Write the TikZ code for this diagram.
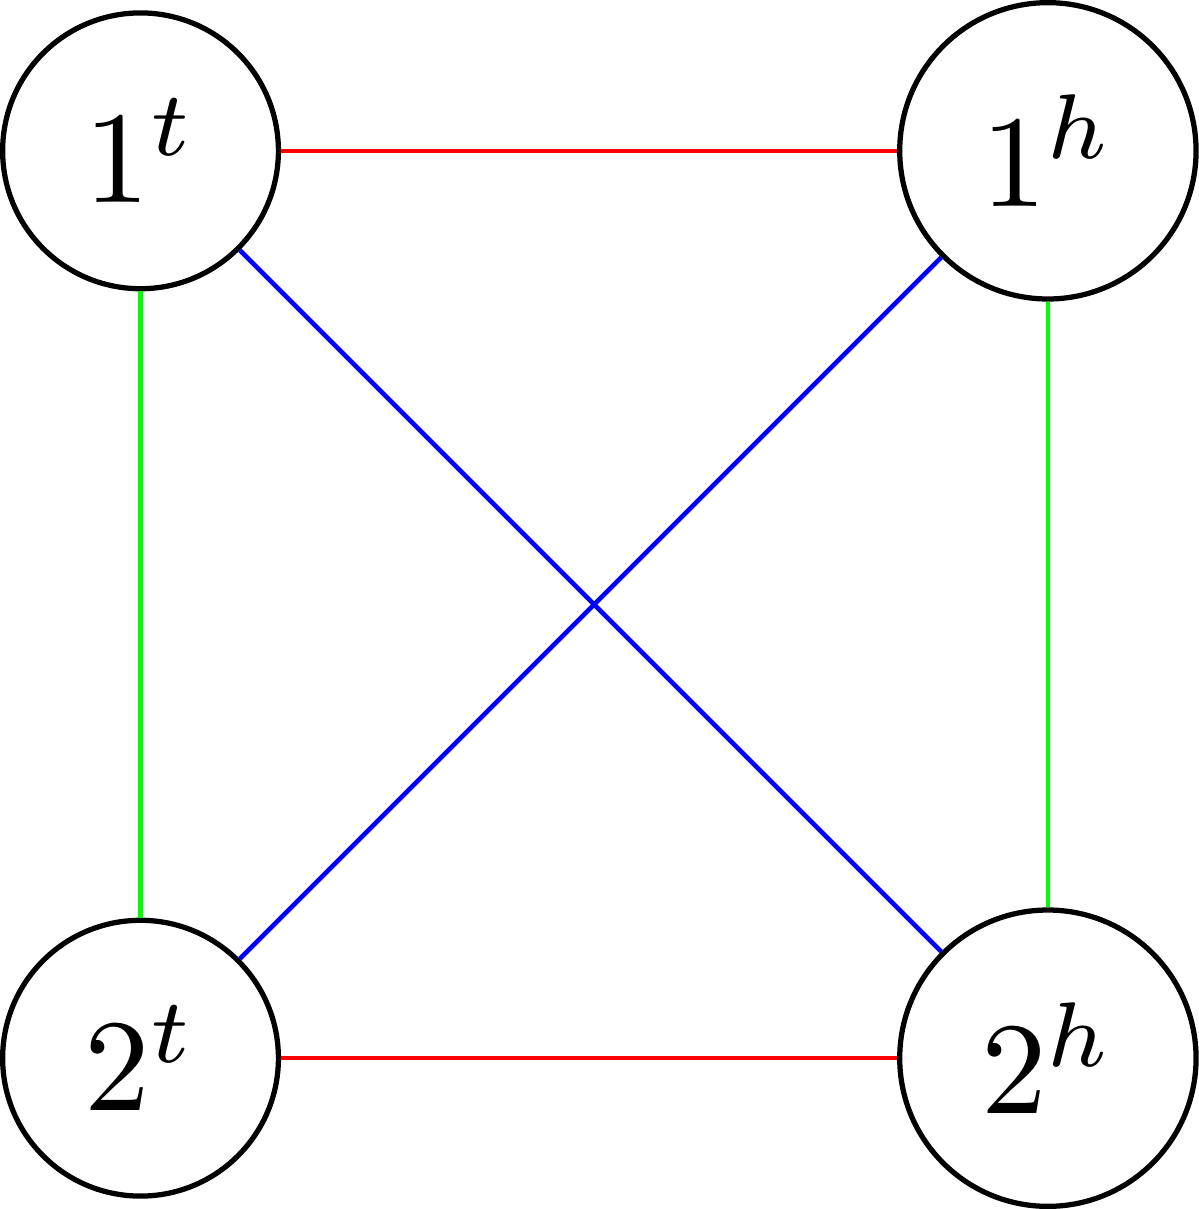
\documentclass[tikz,border=0pt]{standalone}
\usetikzlibrary{calc}

\begin{document}
\begin{tikzpicture}[
 vertex/.style={draw,circle,line width=.4pt},
 edge/.style={line width=.35pt}
]
\node[vertex] (t1) at (0,2.43) {$1^t$};
\node[vertex] (h1) at (2.43,2.43) {$1^h$};
\node[vertex] (t2) at (0,0) {$2^t$};
\node[vertex] (h2) at (2.43,0) {$2^h$};
\draw[edge,red] (t1) -- (h1);
\draw[edge,red] (t2) -- (h2);
\draw[edge,green] (t1) -- (t2);
\draw[edge,green] (h1) -- (h2);
\draw[edge,blue] (t1) -- (h2);
\draw[edge,blue] (h1) -- (t2);
\end{tikzpicture}
\end{document}
